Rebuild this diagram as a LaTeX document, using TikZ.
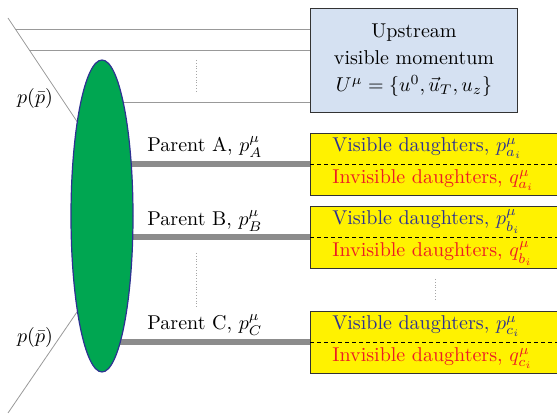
\documentclass[tikz,border=0pt]{standalone}
\usepackage{amsmath}
\usetikzlibrary{positioning,backgrounds,shapes.geometric,calc}
\definecolor{upblue}{RGB}{213,225,242}
\definecolor{visblue}{RGB}{46,49,146}
\definecolor{invred}{RGB}{237,28,36}
\definecolor{blobgreen}{RGB}{0,166,81}
\definecolor{dauyellow}{RGB}{255,242,0}
\tikzset{
    upstreambox/.style={draw=black!80, fill=upblue, align=center, minimum width=103.5pt, minimum height=52pt, inner sep=0pt},
    daughterbox/.style={draw=black!80, fill=dauyellow, minimum width=160pt, minimum height=31pt, anchor=north west, inner sep=0pt},
    vislabel/.style={text=visblue, anchor=base west, inner sep=0pt},
    invlabel/.style={text=invred, anchor=base west, inner sep=0pt},
    parentline/.style={line width=3pt, draw=black!45},
    parentlabel/.style={anchor=base west, inner sep=0pt},
    beamline/.style={draw=black!40, line width=0.4pt},
    moredots/.style={draw=black!35, densely dotted},
    splitline/.style={draw=black, line width=0.5pt, dash pattern=on 2pt off 1.5pt}
}

\begin{document}
\begin{tikzpicture}[x=0.5pt, y=-0.5pt]
    \clip (0,0) rectangle (557,416);
    % collision blob and incoming beams
    \node[ellipse, draw=visblue, line width=0.6pt, fill=blobgreen, minimum width=31pt, minimum height=156pt, inner sep=0pt] (blob) at (102,216) {};
    \coordinate (beamtop) at (8,18);
    \coordinate (beambot) at (8,413);
    \node (ptop) at (35,99) {$p(\bar{p})$};
    \node (pbot) at (35,338) {$p(\bar{p})$};
    % upstream radiation
    \node[upstreambox] (upbox) at (414,60) {Upstream\\[1.6pt] visible momentum\\[1.6pt] $U^\mu=\{u^0,\vec{u}_T,u_z\}$};
    \coordinate (up1) at (15,29);
    \coordinate (up2) at (29,50);
    \coordinate (up3) at (102,102);
    % daughter boxes
    \node[daughterbox] (boxA) at (310,133) {};
    \node[daughterbox] (boxB) at (310,206) {};
    \node[daughterbox] (boxC) at (310,311) {};
    \foreach \b/\s in {A/a,B/b,C/c}{
        \draw[splitline] (box\b.west) -- (box\b.east);
        \node[vislabel] (vis\b) at ([xshift=11pt,yshift=-9.5pt]box\b.north west) {Visible daughters, $p^\mu_{\s_i}$};
        \node[invlabel] (inv\b) at ([xshift=11pt,yshift=-25.5pt]box\b.north west) {Invisible daughters, $q^\mu_{\s_i}$};
    }
    \node[parentlabel] (parA) at (147,152) {Parent A, $p^\mu_A$};
    \node[parentlabel] (parB) at (147,226) {Parent B, $p^\mu_B$};
    \node[parentlabel] (parC) at (147,330) {Parent C, $p^\mu_C$};
    \begin{scope}[on background layer]
        \draw[beamline] (beamtop) -- ($(beamtop)!1.3!(76,120)$);
        \draw[beamline] (beambot) -- ($(beambot)!1.3!(77,312)$);
        \draw[beamline] (up1) -- (up1 -| upbox.west);
        \draw[beamline] (up2) -- (up2 -| upbox.west);
        \draw[beamline] (up3) -- (up3 -| upbox.west);
        \foreach \b in {A,B,C}
            \draw[parentline] (blob.center |- box\b.west) -- (box\b.west);
    \end{scope}
    % more particles
    \draw[moredots] (196,60) -- (196,92);
    \draw[moredots] (196,253) -- (196,307);
    \draw[moredots] (435,279) -- (435,300);
\end{tikzpicture}
\end{document}
